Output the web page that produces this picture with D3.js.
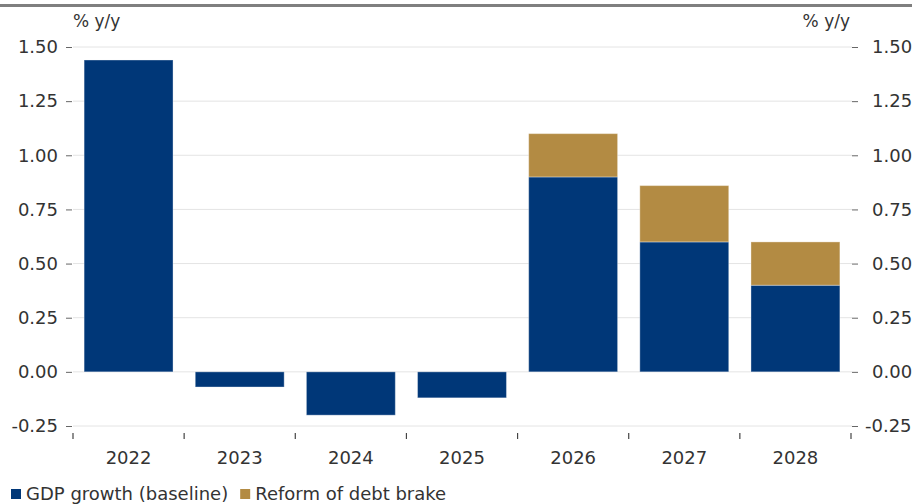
<!DOCTYPE html>
<html>
<head>
<meta charset="utf-8">
<script src="https://cdn.jsdelivr.net/npm/d3@7"></script>
<style>
  html, body { margin: 0; padding: 0; background: #fff; }
  svg { display: block; }
  text { font-family: "DejaVu Sans", sans-serif; fill: #333; }
</style>
</head>
<body>
<svg id="chart" width="912" height="504"></svg>
<script>
// Annual GDP growth, % y/y
const years = ["2022", "2023", "2024", "2025", "2026", "2027", "2028"];
const baseline = [1.44, -0.07, -0.2, -0.12, 0.9, 0.6, 0.4];
const debtBrake = [0, 0, 0, 0, 0.2, 0.26, 0.2];
const yTicks = [-0.25, 0, 0.25, 0.5, 0.75, 1.0, 1.25, 1.5];
const seriesNames = ["GDP growth (baseline)", "Reform of debt brake"];
const seriesColors = ["#003778", "#b38b43"];

const svg = d3.select("#chart");
const W = 912, H = 504;
const plotL = 73, plotR = 851, plotT = 47, plotB = 426;

const x = d3.scaleBand().domain(years).range([plotL, plotR]).paddingInner(0.2).paddingOuter(0.1);
const y = d3.scaleLinear().domain([-0.25, 1.5]).range([plotB, plotT]);

// top rule
svg.append("rect").attr("x", 0).attr("y", 4).attr("width", W).attr("height", 3).attr("fill", "#7f7f7f");

// gridlines
svg.append("g").selectAll("line").data(yTicks).join("line")
  .attr("x1", plotL).attr("x2", plotR + 1)
  .attr("y1", d => y(d)).attr("y2", d => y(d))
  .attr("stroke", "#e4e4e4").attr("stroke-width", 1);

// two decimals, plain hyphen for negatives
const fmt = d => d3.format(".2f")(d).replace("\u2212", "-");

// left axis
const gL = svg.append("g").attr("transform", `translate(${plotL - 1},0)`)
  .call(d3.axisLeft(y).tickValues(yTicks).tickFormat(fmt).tickSize(6).tickPadding(8));
// right axis
const gR = svg.append("g").attr("transform", `translate(${plotR + 1},0)`)
  .call(d3.axisRight(y).tickValues(yTicks).tickFormat(fmt).tickSize(6).tickPadding(14));
[gL, gR].forEach(g => {
  g.select(".domain").remove();
  g.selectAll(".tick line").attr("stroke", "#666");
  g.selectAll(".tick text").attr("font-size", 18).attr("fill", "#333")
    .style("font-family", "'DejaVu Sans', sans-serif");
});
// negative labels on the right hang their sign to the left
gR.selectAll(".tick text").filter(d => d < 0).attr("dx", -7);

// axis units
svg.append("text").attr("x", plotL).attr("y", 27).attr("font-size", 17).text("% y/y");
svg.append("text").attr("x", plotR - 1).attr("y", 27).attr("font-size", 17).attr("text-anchor", "end").text("% y/y");

// stacked bars
const rows = years.map((yr, i) => ({ year: yr, baseline: baseline[i], debtBrake: debtBrake[i] }));
const barG = svg.append("g");
rows.forEach(r => {
  barG.append("rect")
    .attr("x", x(r.year)).attr("width", x.bandwidth())
    .attr("y", y(Math.max(0, r.baseline)))
    .attr("height", Math.abs(y(r.baseline) - y(0)))
    .attr("fill", seriesColors[0])
    .attr("stroke", "rgba(255,255,255,0.35)").attr("stroke-width", 1);
  if (r.debtBrake > 0) {
    barG.append("rect")
      .attr("x", x(r.year)).attr("width", x.bandwidth())
      .attr("y", y(r.baseline + r.debtBrake))
      .attr("height", y(r.baseline) - y(r.baseline + r.debtBrake))
      .attr("fill", seriesColors[1])
      .attr("stroke", "rgba(255,255,255,0.35)").attr("stroke-width", 1);
  }
});

// x axis: ticks at category boundaries, no baseline
const bounds = years.map(yr => x(yr) - x.step() * x.paddingInner() / 2);
bounds.push(plotR);
svg.append("g").selectAll("line").data(bounds).join("line")
  .attr("x1", d => d).attr("x2", d => d)
  .attr("y1", 433).attr("y2", 439)
  .attr("stroke", "#444").attr("stroke-width", 1.2);
svg.append("g").selectAll("text").data(years).join("text")
  .attr("x", d => x(d) + x.bandwidth() / 2).attr("y", 464)
  .attr("text-anchor", "middle").attr("font-size", 18).text(d => d);

// legend
const legend = svg.append("g").attr("transform", "translate(11,494)");
let lx = 0;
seriesNames.forEach((name, i) => {
  legend.append("rect").attr("x", lx).attr("y", -5).attr("width", 10).attr("height", 10).attr("fill", seriesColors[i]);
  const t = legend.append("text").attr("x", lx + 15).attr("y", 6).attr("font-size", 18).text(name);
  lx += 15 + t.node().getComputedTextLength() + 12;
});
</script>
</body>
</html>
